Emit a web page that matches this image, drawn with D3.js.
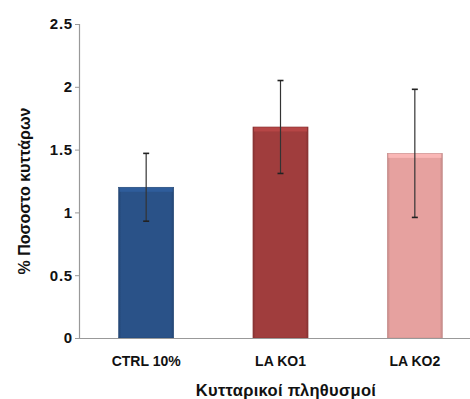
<!DOCTYPE html>
<html><head><meta charset="utf-8">
<script src="https://cdn.jsdelivr.net/npm/d3@7"></script>
<style>body{margin:0;background:#fff}svg{display:block}</style>
</head><body>
<svg id="c" width="470" height="399"></svg>
<script>
const categories = ["CTRL 10%", "LA KO1", "LA KO2"];
const values = [1.20, 1.68, 1.47];
const errors = [0.27, 0.37, 0.51];
const colors = ["#2a5288", "#a03d3d", "#e6a19f"];
const yTicks = [0, 0.5, 1, 1.5, 2, 2.5];

const FONT = "Liberation Sans, Arial, sans-serif";
const svg = d3.select("#c");
const x = d3.scaleBand().domain(categories).range([79, 482]).paddingInner(0.59).paddingOuter(0.295);
const y = d3.scaleLinear().domain([0, 2.5]).range([338, 24]);

const defs = svg.append("defs");
colors.forEach((c, i) => {
  const g = defs.append("linearGradient").attr("id", "g" + i).attr("x1", 0).attr("x2", 1).attr("y1", 0).attr("y2", 0);
  const dk = d3.color(c).darker(0.5);
  g.append("stop").attr("offset", "0%").attr("stop-color", dk);
  g.append("stop").attr("offset", "5%").attr("stop-color", c);
  g.append("stop").attr("offset", "95%").attr("stop-color", c);
  g.append("stop").attr("offset", "100%").attr("stop-color", dk);
});

// bars
const bars = svg.append("g");
categories.forEach((cat, i) => {
  const bx = x(cat), bw = x.bandwidth(), by = y(values[i]);
  bars.append("rect").attr("x", bx).attr("y", by).attr("width", bw).attr("height", y(0) - by)
    .attr("fill", `url(#g${i})`).attr("stroke", d3.color(colors[i]).darker(0.4)).attr("stroke-width", 0.6);
  bars.append("rect").attr("x", bx + 1).attr("y", by + 0.5).attr("width", bw - 2).attr("height", 4)
    .attr("fill", d3.color(colors[i]).brighter(0.45)).attr("opacity", 0.8);
});

// error bars
const eb = svg.append("g").attr("stroke", "#222").attr("stroke-width", 1.2);
categories.forEach((cat, i) => {
  const cx = x(cat) + x.bandwidth() / 2;
  const hi = y(values[i] + errors[i]), lo = y(values[i] - errors[i]);
  eb.append("line").attr("x1", cx).attr("x2", cx).attr("y1", hi).attr("y2", lo).attr("stroke", "#333");
  eb.append("line").attr("x1", cx - 3).attr("x2", cx + 3).attr("y1", hi).attr("y2", hi).attr("stroke-width", 1.6);
  eb.append("line").attr("x1", cx - 3).attr("x2", cx + 3).attr("y1", lo).attr("y2", lo).attr("stroke-width", 1.6);
});

// y axis
const ya = svg.append("g").attr("transform", "translate(79,0)")
  .call(d3.axisLeft(y).tickValues(yTicks).tickFormat(d3.format("")).tickSize(4).tickPadding(2));
ya.select(".domain").attr("stroke", "#999").attr("stroke-width", 1.2);
ya.selectAll(".tick line").attr("stroke", "#999");
ya.selectAll("text").attr("font-family", FONT).attr("font-size", 15).attr("font-weight", "bold")
  .attr("letter-spacing", 0.8).attr("fill", "#111");

// x axis
const xa = svg.append("g").attr("transform", "translate(0,338)")
  .call(d3.axisBottom(x).tickSize(0).tickPadding(18));
xa.select(".domain").attr("stroke", "#999").attr("stroke-width", 1.2);
xa.selectAll("text").attr("font-family", FONT).attr("font-size", 14).attr("font-weight", "bold").attr("fill", "#111");

// titles
svg.append("text").attr("x", 286).attr("y", 396).attr("text-anchor", "middle")
  .attr("font-family", FONT).attr("font-size", 16.5).attr("font-weight", "bold").attr("letter-spacing", 0.3).attr("fill", "#111")
  .text("Κυτταρικοί πληθυσμοί");
svg.append("text").attr("transform", "translate(30,191) rotate(-90)").attr("text-anchor", "middle")
  .attr("font-family", FONT).attr("font-size", 16).attr("font-weight", "bold").attr("fill", "#111")
  .text("% Ποσοστο κυττάρων");
</script>
</body></html>
